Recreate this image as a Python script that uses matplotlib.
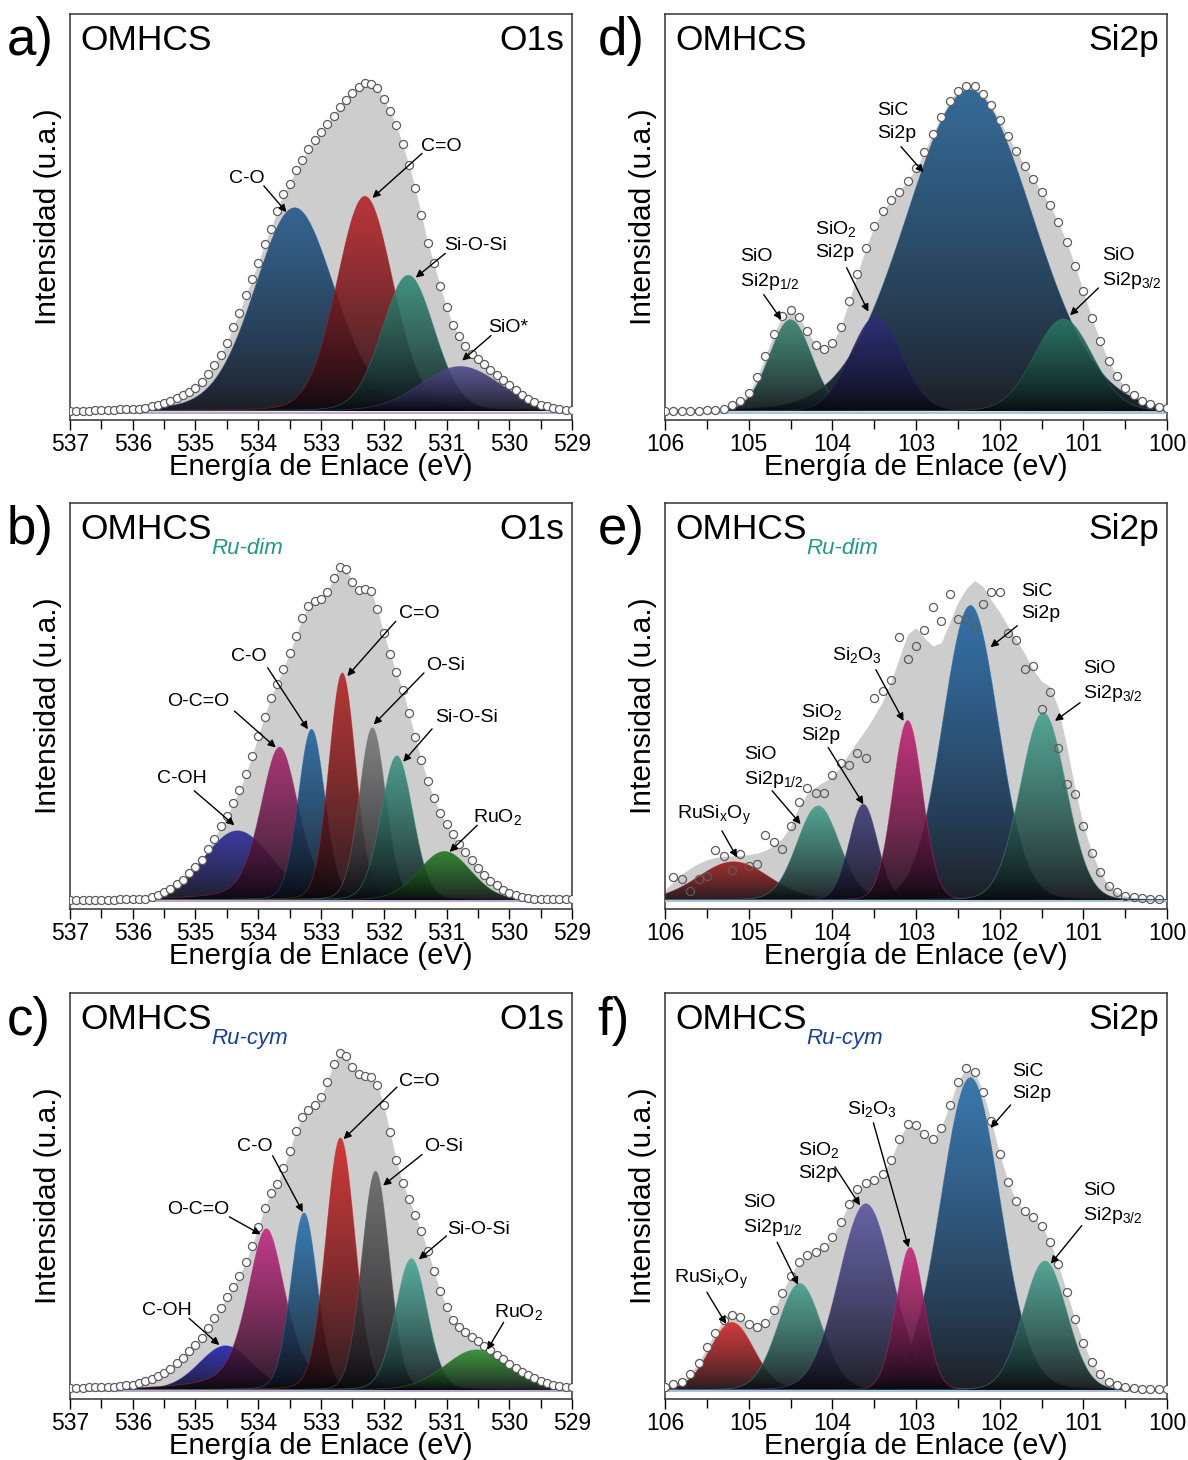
import numpy as np
import matplotlib
matplotlib.use('Agg')
import matplotlib.pyplot as plt
import matplotlib.colors as mcolors
from matplotlib.patches import PathPatch
from matplotlib.ticker import MultipleLocator

plt.rcParams['font.family'] = ['Liberation Sans', 'DejaVu Sans']
plt.rcParams['mathtext.fontset'] = 'custom'
plt.rcParams['mathtext.rm'] = 'Liberation Sans'
plt.rcParams['mathtext.it'] = 'Liberation Sans:italic'
plt.rcParams['mathtext.bf'] = 'Liberation Sans:bold'

# measured spectra, 0.1 eV steps, normalised intensity
a_intensity = [0.000, 0.000, 0.001, 0.001, 0.002, 0.002, 0.003, 0.003, 0.004, 0.004,
               0.005, 0.006, 0.008, 0.012, 0.016, 0.021, 0.026, 0.033, 0.040, 0.048,
               0.057, 0.072, 0.094, 0.115, 0.142, 0.172, 0.211, 0.248, 0.292, 0.332,
               0.374, 0.420, 0.458, 0.504, 0.546, 0.572, 0.607, 0.632, 0.659, 0.682,
               0.702, 0.722, 0.744, 0.767, 0.784, 0.802, 0.817, 0.826, 0.825, 0.813,
               0.786, 0.755, 0.720, 0.672, 0.620, 0.562, 0.494, 0.424, 0.372, 0.314,
               0.262, 0.216, 0.190, 0.164, 0.143, 0.130, 0.118, 0.104, 0.090, 0.077,
               0.065, 0.053, 0.041, 0.031, 0.023, 0.016, 0.012, 0.008, 0.005, 0.003,
               0.002]
b_intensity = [0.000, 0.000, 0.000, 0.000, 0.000, 0.000, 0.000, 0.000, 0.001, 0.001,
               0.002, 0.002, 0.003, 0.007, 0.013, 0.019, 0.027, 0.039, 0.051, 0.067,
               0.082, 0.101, 0.128, 0.153, 0.185, 0.211, 0.243, 0.277, 0.316, 0.362,
               0.413, 0.462, 0.510, 0.545, 0.583, 0.621, 0.666, 0.710, 0.741, 0.753,
               0.758, 0.775, 0.812, 0.840, 0.833, 0.802, 0.781, 0.783, 0.778, 0.732,
               0.672, 0.620, 0.574, 0.530, 0.472, 0.410, 0.352, 0.300, 0.256, 0.220,
               0.190, 0.165, 0.142, 0.120, 0.100, 0.080, 0.062, 0.047, 0.037, 0.026,
               0.018, 0.012, 0.008, 0.005, 0.003, 0.002, 0.002, 0.001, 0.001, 0.001,
               0.001]
c_intensity = [0.005, 0.005, 0.005, 0.006, 0.006, 0.007, 0.007, 0.008, 0.009, 0.011,
               0.013, 0.018, 0.022, 0.028, 0.035, 0.043, 0.052, 0.068, 0.080, 0.097,
               0.112, 0.131, 0.155, 0.181, 0.207, 0.233, 0.260, 0.288, 0.321, 0.362,
               0.410, 0.459, 0.495, 0.518, 0.558, 0.602, 0.652, 0.688, 0.706, 0.717,
               0.737, 0.776, 0.822, 0.848, 0.841, 0.814, 0.796, 0.790, 0.788, 0.768,
               0.718, 0.650, 0.580, 0.522, 0.480, 0.440, 0.400, 0.350, 0.300, 0.250,
               0.208, 0.177, 0.158, 0.145, 0.133, 0.122, 0.111, 0.100, 0.089, 0.078,
               0.066, 0.056, 0.045, 0.037, 0.029, 0.022, 0.016, 0.012, 0.009, 0.007,
               0.006]
d_intensity = [0.000, 0.000, 0.000, 0.001, 0.001, 0.002, 0.003, 0.006, 0.014, 0.024,
               0.045, 0.085, 0.138, 0.194, 0.238, 0.255, 0.236, 0.201, 0.167, 0.155,
               0.170, 0.212, 0.276, 0.346, 0.410, 0.465, 0.503, 0.531, 0.553, 0.580,
               0.611, 0.653, 0.699, 0.741, 0.780, 0.807, 0.820, 0.818, 0.800, 0.771,
               0.733, 0.692, 0.654, 0.617, 0.585, 0.553, 0.518, 0.476, 0.425, 0.366,
               0.301, 0.235, 0.176, 0.127, 0.088, 0.058, 0.040, 0.026, 0.017, 0.011,
               0.008]
# panel e starts at 105.9 eV and stops at 100.1 eV
e_intensity = [0.057, 0.053, 0.023, 0.053, 0.059, 0.126, 0.111, 0.076, 0.116, 0.085,
               0.090, 0.163, 0.145, 0.128, 0.187, 0.247, 0.281, 0.269, 0.269, 0.315,
               0.346, 0.339, 0.371, 0.358, 0.509, 0.526, 0.554, 0.662, 0.607, 0.641,
               0.681, 0.737, 0.704, 0.771, 0.708, 0.708, 0.689, 0.746, 0.775, 0.777,
               0.673, 0.654, 0.582, 0.589, 0.480, 0.523, 0.384, 0.291, 0.266, 0.185,
               0.118, 0.070, 0.036, 0.021, 0.011, 0.007, 0.005, 0.003, 0.003]
e_envelope = [0.025, 0.045, 0.065, 0.080, 0.092, 0.101, 0.107, 0.110, 0.111, 0.112,
              0.114, 0.118, 0.125, 0.137, 0.155, 0.185, 0.235, 0.268, 0.285, 0.298,
              0.310, 0.337, 0.370, 0.400, 0.430, 0.463, 0.500, 0.550, 0.610, 0.670,
              0.686, 0.660, 0.640, 0.648, 0.698, 0.750, 0.785, 0.805, 0.790, 0.755,
              0.725, 0.689, 0.655, 0.620, 0.580, 0.551, 0.538, 0.484, 0.388, 0.279,
              0.187, 0.120, 0.070, 0.036, 0.019, 0.010, 0.006, 0.004, 0.003, 0.003,
              0.003]
f_intensity = [0.007, 0.014, 0.020, 0.041, 0.068, 0.107, 0.144, 0.176, 0.189, 0.183,
               0.166, 0.158, 0.168, 0.200, 0.244, 0.288, 0.322, 0.339, 0.348, 0.359,
               0.386, 0.424, 0.469, 0.507, 0.522, 0.528, 0.543, 0.579, 0.633, 0.670,
               0.668, 0.645, 0.633, 0.660, 0.718, 0.777, 0.811, 0.802, 0.751, 0.677,
               0.594, 0.524, 0.475, 0.450, 0.435, 0.414, 0.373, 0.316, 0.246, 0.178,
               0.117, 0.070, 0.041, 0.020, 0.011, 0.007, 0.004, 0.003, 0.003, 0.003,
               0.003]

# fitted components: centre (eV), height, FWHM (eV), Lorentzian fraction
a_names = ['C-O', 'C=O', 'Si-O-Si', 'SiO*']
a_center = [533.42, 532.30, 531.61, 530.78]
a_height = [0.512, 0.541, 0.342, 0.112]
a_fwhm = [1.50, 1.05, 0.98, 1.50]
a_mix = [0.15, 0.10, 0.10, 0.10]
a_colors = ['#24598c', '#b8242a', '#348a78', '#4f4b8e']

b_names = ['C-OH', 'O-C=O', 'C-O', 'C=O', 'O-Si', 'Si-O-Si', 'RuO2']
b_center = [534.33, 533.66, 533.15, 532.66, 532.18, 531.79, 531.03]
b_height = [0.174, 0.385, 0.430, 0.572, 0.434, 0.363, 0.122]
b_fwhm = [1.28, 0.72, 0.50, 0.50, 0.50, 0.60, 0.98]
b_mix = [0.10, 0.35, 0.10, 0.10, 0.10, 0.10, 0.10]
b_colors = ['#2b2b9a', '#a4266c', '#2566a0', '#b52525', '#7b7b7b', '#3c9684', '#237a23']

c_names = ['C-OH', 'O-C=O', 'C-O', 'C=O', 'O-Si', 'Si-O-Si', 'RuO2']
c_center = [534.52, 533.87, 533.27, 532.69, 532.13, 531.56, 530.52]
c_height = [0.111, 0.406, 0.446, 0.635, 0.551, 0.331, 0.101]
c_fwhm = [1.00, 0.72, 0.50, 0.55, 0.52, 0.60, 1.20]
c_mix = [0.15, 0.50, 0.10, 0.10, 0.05, 0.10, 0.10]
c_colors = ['#2424b4', '#c22a80', '#2a73b0', '#d02828', '#666666', '#4aa898', '#2e8f2e']

d_names = ['SiC Si2p', 'SiO Si2p1/2', 'SiO2 Si2p', 'SiO Si2p3/2']
d_center = [102.36, 104.50, 103.48, 101.24]
d_height = [0.809, 0.230, 0.237, 0.232]
d_fwhm = [1.78, 0.60, 0.72, 0.82]
d_mix = [0.05, 0.05, 0.05, 0.05]
d_colors = ['#245f92', '#35826e', '#2f2f78', '#2a7a66']

e_names = ['SiC Si2p', 'RuSixOy', 'SiO Si2p1/2', 'SiO2 Si2p', 'Si2O3', 'SiO Si2p3/2']
e_center = [102.35, 105.18, 104.17, 103.63, 103.10, 101.48]
e_height = [0.742, 0.096, 0.237, 0.241, 0.452, 0.472]
e_fwhm = [0.78, 1.00, 0.60, 0.40, 0.42, 0.65]
e_mix = [0.05, 0.05, 0.05, 0.05, 0.05, 0.05]
e_colors = ['#2468a6', '#9c1c1c', '#47a08e', '#3d3b78', '#c42474', '#47a08e']

f_names = ['SiC Si2p', 'RuSixOy', 'SiO Si2p1/2', 'SiO2 Si2p', 'Si2O3', 'SiO Si2p3/2']
f_center = [102.35, 105.20, 104.39, 103.60, 103.07, 101.46]
f_height = [0.787, 0.170, 0.268, 0.469, 0.359, 0.325]
f_fwhm = [0.84, 0.62, 0.62, 0.76, 0.40, 0.62]
f_mix = [0.05, 0.05, 0.05, 0.05, 0.05, 0.05]
f_colors = ['#2a6eaa', '#d42a2a', '#47a08e', '#5a56a0', '#c8287a', '#47a08e']


def pseudo_voigt(x, c, h, w, m):
    g = np.exp(-4 * np.log(2) * (x - c) ** 2 / w ** 2)
    lor = 1 / (1 + 4 * (x - c) ** 2 / w ** 2)
    return h * ((1 - m) * g + m * lor)


def gradient_fill(ax, x, y, color, z):
    band = ax.fill_between(x, 0, y, facecolor='none', edgecolor='none')
    clip = PathPatch(band.get_paths()[0], transform=ax.transData,
                     facecolor='none', edgecolor='none')
    ax.add_patch(clip)
    top = np.array(mcolors.to_rgb(color))
    base = np.array([0.03, 0.03, 0.05])
    t = np.linspace(0, 1, 256)[:, None] ** 0.75
    img = np.ones((256, 1, 4))
    img[:, 0, :3] = base + (top - base) * t
    img[:, 0, 3] = 0.9
    im = ax.imshow(img, extent=[x.max(), x.min(), 0, y.max()], origin='lower',
                   aspect='auto', interpolation='bilinear', zorder=z)
    im.set_clip_path(clip)
    ax.plot(x, y, color=color, lw=0.6, alpha=0.5, zorder=z)


SIO12 = 'SiO\nSi2p$_{\\mathregular{1/2}}$'
SIO32 = 'SiO\nSi2p$_{\\mathregular{3/2}}$'
SIO2 = 'SiO$_{\\mathregular{2}}$\nSi2p'
SIC = 'SiC\nSi2p'
SI2O3 = 'Si$_{\\mathregular{2}}$O$_{\\mathregular{3}}$'
RUSI = 'RuSi$_{\\mathregular{x}}$O$_{\\mathregular{y}}$'
RUO2 = 'RuO$_{\\mathregular{2}}$'

# label, text position, alignment, arrow tail, arrow head
a_notes = [('C-O', (534.19, 0.587), 'center', (533.91, 0.567), (533.55, 0.501)),
           ('C=O', (531.08, 0.667), 'center', (531.39, 0.649), (532.18, 0.537)),
           ('Si-O-Si', (530.53, 0.416), 'center', (531.02, 0.397), (531.49, 0.336)),
           ('SiO*', (530.02, 0.211), 'center', (530.29, 0.190), (530.75, 0.127))]
b_notes = [('C-OH', (535.21, 0.306), 'center', (535.02, 0.275), (534.38, 0.188)),
           ('O-C=O', (534.96, 0.500), 'center', (534.38, 0.476), (533.72, 0.384)),
           ('C-O', (534.15, 0.614), 'center', (533.85, 0.585), (533.21, 0.430)),
           ('C=O', (531.44, 0.721), 'center', (531.81, 0.702), (532.58, 0.564)),
           ('O-Si', (531.02, 0.590), 'center', (531.36, 0.572), (532.16, 0.442)),
           ('Si-O-Si', (530.68, 0.459), 'center', (531.23, 0.431), (531.69, 0.348)),
           (RUO2, (530.19, 0.208), 'center', (530.51, 0.188), (530.95, 0.121))]
c_notes = [('C-OH', (535.46, 0.201), 'center', (535.10, 0.180), (534.62, 0.113)),
           ('O-C=O', (534.96, 0.455), 'center', (534.46, 0.436), (533.96, 0.392)),
           ('C-O', (534.05, 0.614), 'center', (533.77, 0.590), (533.29, 0.448)),
           ('C=O', (531.44, 0.777), 'center', (531.79, 0.763), (532.64, 0.632)),
           ('O-Si', (531.04, 0.614), 'center', (531.39, 0.593), (532.01, 0.515)),
           ('Si-O-Si', (530.49, 0.405), 'center', (531.00, 0.388), (531.44, 0.329)),
           (RUO2, (529.85, 0.195), 'center', (530.09, 0.170), (530.35, 0.101))]
d_notes = [(SIO12, (105.10, 0.355), 'left', (104.82, 0.293), (104.61, 0.230)),
           (SIO2, (104.21, 0.430), 'left', (103.83, 0.361), (103.57, 0.250)),
           (SIC, (103.47, 0.728), 'left', (103.18, 0.666), (102.91, 0.601)),
           (SIO32, (100.78, 0.358), 'left', (100.82, 0.310), (101.16, 0.241))]
e_notes = [(RUSI, (105.86, 0.212), 'left', (105.32, 0.174), (105.14, 0.107)),
           (SIO12, (105.06, 0.333), 'left', (104.72, 0.275), (104.38, 0.191)),
           (SIO2, (104.37, 0.446), 'left', (104.05, 0.384), (103.63, 0.241)),
           (SI2O3, (104.00, 0.618), 'left', (103.48, 0.580), (103.15, 0.451)),
           (SIC, (101.74, 0.750), 'left', (101.79, 0.691), (102.11, 0.637)),
           (SIO32, (101.00, 0.549), 'left', (101.04, 0.497), (101.34, 0.451))]
f_notes = [(RUSI, (105.89, 0.278), 'left', (105.50, 0.246), (105.27, 0.166)),
           (SIO12, (105.07, 0.437), 'left', (104.66, 0.372), (104.41, 0.265)),
           (SIO2, (104.41, 0.577), 'left', (103.97, 0.562), (103.67, 0.465)),
           (SI2O3, (103.82, 0.707), 'left', (103.51, 0.673), (103.09, 0.359)),
           (SIC, (101.85, 0.775), 'left', (101.87, 0.718), (102.11, 0.660)),
           (SIO32, (101.00, 0.468), 'left', (101.02, 0.414), (101.39, 0.318))]

panels = [
    dict(tag='a)', sub=None, line='O1s', xr=(537, 529), start=537.0, data=a_intensity, env=None,
         center=a_center, height=a_height, fwhm=a_fwhm, mix=a_mix, colors=a_colors, notes=a_notes,
         rect=[0.0589, 0.7123, 0.4226, 0.278], tagxy=(0.006, 0.972)),
    dict(tag='b)', sub=('Ru-dim', '#1f9a86'), line='O1s', xr=(537, 529), start=537.0, data=b_intensity,
         env=None, center=b_center, height=b_height, fwhm=b_fwhm, mix=b_mix, colors=b_colors,
         notes=b_notes, rect=[0.0589, 0.3774, 0.4226, 0.278], tagxy=(0.006, 0.637)),
    dict(tag='c)', sub=('Ru-cym', '#173f96'), line='O1s', xr=(537, 529), start=537.0, data=c_intensity,
         env=None, center=c_center, height=c_height, fwhm=c_fwhm, mix=c_mix, colors=c_colors,
         notes=c_notes, rect=[0.0589, 0.0418, 0.4226, 0.278], tagxy=(0.006, 0.301)),
    dict(tag='d)', sub=None, line='Si2p', xr=(106, 100), start=106.0, data=d_intensity, env=None,
         center=d_center, height=d_height, fwhm=d_fwhm, mix=d_mix, colors=d_colors, notes=d_notes,
         rect=[0.5598, 0.7123, 0.4226, 0.278], tagxy=(0.503, 0.972)),
    dict(tag='e)', sub=('Ru-dim', '#1f9a86'), line='Si2p', xr=(106, 100), start=105.9, data=e_intensity,
         env=e_envelope, center=e_center, height=e_height, fwhm=e_fwhm, mix=e_mix, colors=e_colors,
         notes=e_notes, rect=[0.5598, 0.3774, 0.4226, 0.278], tagxy=(0.503, 0.637)),
    dict(tag='f)', sub=('Ru-cym', '#173f96'), line='Si2p', xr=(106, 100), start=106.0, data=f_intensity,
         env=None, center=f_center, height=f_height, fwhm=f_fwhm, mix=f_mix, colors=f_colors,
         notes=f_notes, rect=[0.5598, 0.0418, 0.4226, 0.278], tagxy=(0.503, 0.301)),
]

fig = plt.figure(figsize=(11.88, 14.6), dpi=100)

for p in panels:
    ax = fig.add_axes(p['rect'])
    hi, lo = p['xr']
    data = np.array(p['data'])
    ex = np.round(p['start'] - 0.1 * np.arange(len(data)), 2)

    # experimental envelope
    if p['env'] is None:
        ax.fill_between(ex, 0, data, color='#cdcdcd', lw=0, zorder=1)
    else:
        env = np.array(p['env'])
        envx = np.round(hi - 0.1 * np.arange(len(env)), 2)
        ax.fill_between(envx, 0, env, color='#cdcdcd', lw=0, zorder=1)

    # fitted components
    xs = np.linspace(hi, lo, 800)
    for i, (c, h, w, m, col) in enumerate(zip(p['center'], p['height'], p['fwhm'],
                                                p['mix'], p['colors'])):
        gradient_fill(ax, xs, pseudo_voigt(xs, c, h, w, m), col, 2 + 0.1 * i)

    ax.axhline(-0.004, color='#b9a6cc' if p['line'] == 'O1s' else '#a9c2d8', lw=1.4, zorder=3)
    ax.plot(ex, data, 'o', ms=5.8, mfc='white' if p['env'] is None else 'none',
            mec='#5c5c5c', mew=0.9, zorder=5)

    for text, txy, ha, tail, head in p['notes']:
        ax.text(txy[0], txy[1], text, fontsize=14, ha=ha, va='center',
                linespacing=1.4, zorder=7)
        ax.annotate('', xy=head, xytext=tail, zorder=7,
                    arrowprops=dict(arrowstyle='-|>', color='black', lw=1.0,
                                    mutation_scale=11, shrinkA=0, shrinkB=0))

    ax.set_xlim(hi, lo)
    ax.set_ylim(-0.023, 1.0)
    ax.set_yticks([])
    ax.xaxis.set_major_locator(MultipleLocator(1))
    ax.xaxis.set_minor_locator(MultipleLocator(0.5))
    ax.tick_params(axis='x', which='major', direction='out', length=7.5, width=1,
                   labelsize=16.5, pad=2)
    ax.tick_params(axis='x', which='minor', direction='out', length=6.5, width=1)
    for s in ax.spines.values():
        s.set_linewidth(1.1)
        s.set_color('#333333')
    ax.set_xlabel('Energía de Enlace (eV)', fontsize=21, labelpad=-2)
    ax.set_ylabel('Intensidad (u.a.)', fontsize=21.5, labelpad=6)

    ax.text(0.02, 0.935, 'OMHCS', transform=ax.transAxes, fontsize=25.5,
            ha='left', va='center', zorder=8)
    if p['sub'] is not None:
        ax.text(0.281, 0.889, p['sub'][0], transform=ax.transAxes, fontsize=16,
                style='italic', color=p['sub'][1], ha='left', va='center', zorder=8)
    ax.text(0.985, 0.935, p['line'], transform=ax.transAxes, fontsize=25.5,
            ha='right', va='center', zorder=8)

    fig.text(p['tagxy'][0], p['tagxy'][1], p['tag'], fontsize=38, ha='left', va='center')

fig.savefig('out.png', dpi=100)
